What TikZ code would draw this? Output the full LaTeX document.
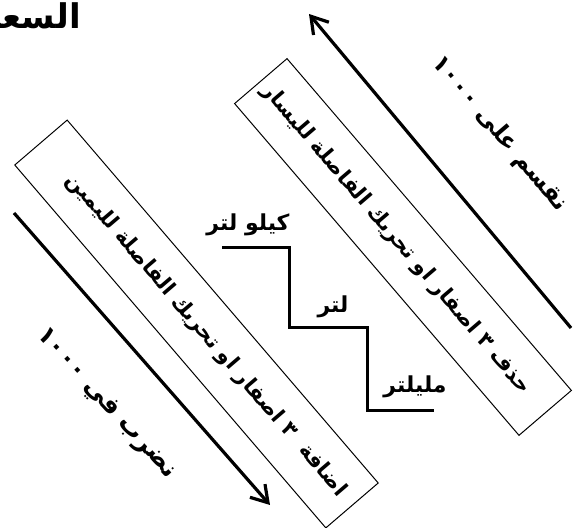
\documentclass[tikz,border=0pt]{standalone}
\usepackage{fontspec}
\newfontfamily\arabicfont[Script=Arabic]{DejaVu Sans}
\TeXXeTstate=1
\usetikzlibrary{arrows.meta}
\newcommand{\artext}[1]{\arabicfont\beginR #1\endR}

\begin{document}
\begin{tikzpicture}[x = 0.5pt, y = -0.5pt,
  rulebox/.style = {draw, line width = 0.5pt, rotate = -49.4, minimum width = 239pt, minimum height = 34.5pt, inner sep = 0pt, font = \fontsize{10.5}{12}\selectfont\bfseries},
  slant/.style = {rotate = -49.4, font = \fontsize{12}{14}\selectfont\bfseries},
  unit/.style = {font = \fontsize{11}{13}\selectfont\bfseries},
  bigarrow/.style = {line width = 1.6pt, -{Straight Barb[length = 8pt, width = 10pt]}}
]
\useasboundingbox (0, 0) rectangle (573, 528);
\clip (0, 0) rectangle (573, 528);

\node[anchor = east, font = \fontsize{17}{19}\selectfont\bfseries] (title) at (88, 16) {\artext{السعة}};

% the two boxes
\node[rulebox] (addbox) at (196.5, 324) {\hspace*{15pt}\artext{اضافة\ \ ٣ اصفار او تحريك الفاصلة لليمين}};
\node[rulebox, minimum width = 218.5pt] (delbox) at (403, 247) {\artext{حذف ٣ اصفار او تحريك الفاصلة لليسار}\hspace*{10pt}};

% arrows
\coordinate (mulstart) at (14, 213);
\coordinate (mulend) at (270, 505);
\coordinate (divstart) at (571, 328);
\coordinate (divend) at (309, 14);
\draw[bigarrow] (mulstart) -- (mulend);
\draw[bigarrow] (divstart) -- (divend);
\node[slant, rotate = 2, font = \fontsize{12.5}{14}\selectfont\bfseries] (multext) at (106, 404) {\artext{نضرب في ١٠٠٠}};
\node[slant] (divtext) at (500, 134) {\artext{نقسم على ١٠٠٠}};

% stairs
\draw[line width = 1.5pt] (222, 248) -- (289, 248) -- (289, 328) -- (367, 328) -- (367, 411) -- (434, 411);
\node[unit] (kilo) at (248, 225) {\artext{كيلو لتر}};
\node[unit] (litre) at (333, 307) {\artext{لتر}};
\node[unit] (milli) at (415, 387) {\artext{مليلتر}};
\end{tikzpicture}
\end{document}
